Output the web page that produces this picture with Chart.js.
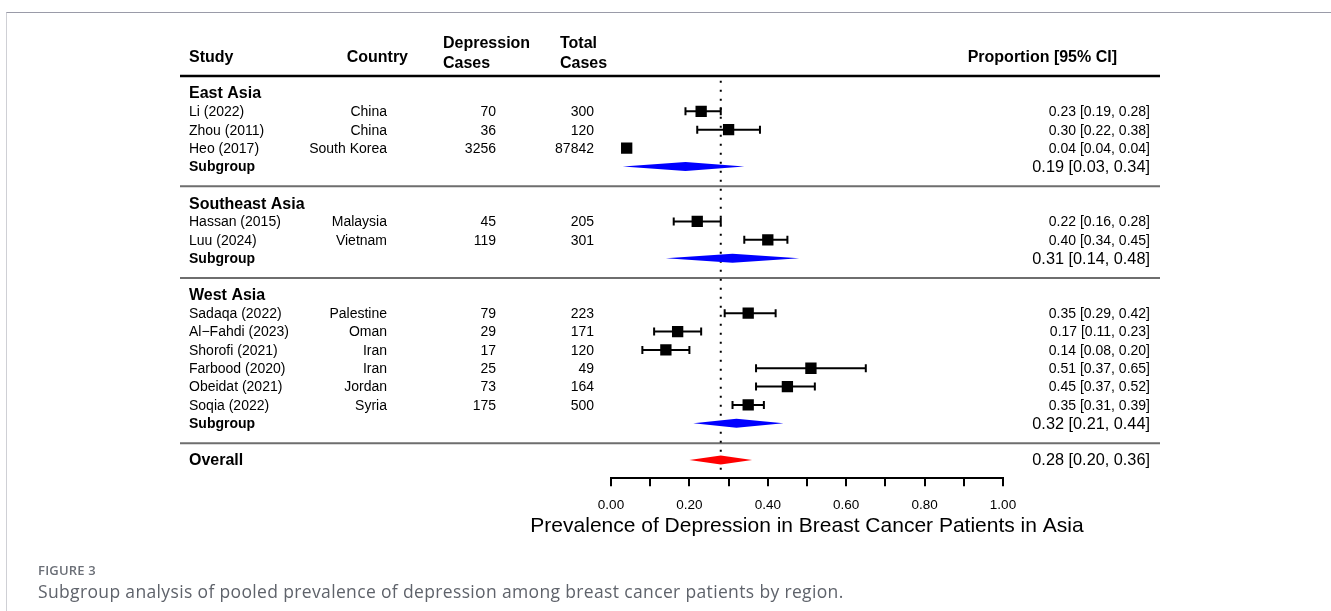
<!DOCTYPE html>
<html>
<head>
<meta charset="utf-8">
<title>Depression prevalence forest plot</title>
<script src="https://cdn.jsdelivr.net/npm/chart.js@4.4.1/dist/chart.umd.min.js"></script>
<style>
  html, body { margin: 0; padding: 0; background: #fff; }
  #wrap { position: relative; width: 1331px; height: 611px; overflow: hidden; }
  #frame { position: absolute; left: 6px; top: 12px; right: -2px; bottom: -2px;
           border-top: 1px solid #9a9ba8; border-left: 1px solid #cfd0d5; }
  #forest { position: absolute; left: 0; top: 0; }
  .figlabel { position: absolute; left: 38px; top: 561px; font: 600 13px "Open Sans", sans-serif;
              color: #6b6f77; letter-spacing: 0.2px; }
  .caption { position: absolute; left: 38px; top: 579px; font: 400 17.5px "Open Sans", sans-serif;
             color: #5f636b; white-space: nowrap; letter-spacing: 0.35px; }
</style>
</head>
<body>
<div id="wrap">
  <div id="frame"></div>
  <canvas id="forest" width="1331" height="611"></canvas>
  <div class="figlabel">FIGURE 3</div>
  <div class="caption">Subgroup analysis of pooled prevalence of depression among breast cancer patients by region.</div>
</div>
<script>
// ---- study data ----
const regions = ['East Asia', 'Southeast Asia', 'West Asia'];
const studies = ['Li (2022)', 'Zhou (2011)', 'Heo (2017)', 'Hassan (2015)', 'Luu (2024)',
                 'Sadaqa (2022)', 'Al\u2212Fahdi (2023)', 'Shorofi (2021)', 'Farbood (2020)',
                 'Obeidat (2021)', 'Soqia (2022)'];
const studyRegion = [0, 0, 0, 1, 1, 2, 2, 2, 2, 2, 2];
const countries = ['China', 'China', 'South Korea', 'Malaysia', 'Vietnam', 'Palestine', 'Oman',
                   'Iran', 'Iran', 'Jordan', 'Syria'];
const depressionCases = [70, 36, 3256, 45, 119, 79, 29, 17, 25, 73, 175];
const totalCases = [300, 120, 87842, 205, 301, 223, 171, 120, 49, 164, 500];
const estimates = [0.23, 0.30, 0.04, 0.22, 0.40, 0.35, 0.17, 0.14, 0.51, 0.45, 0.35];
const lowerCI   = [0.19, 0.22, 0.04, 0.16, 0.34, 0.29, 0.11, 0.08, 0.37, 0.37, 0.31];
const upperCI   = [0.28, 0.38, 0.04, 0.28, 0.45, 0.42, 0.23, 0.20, 0.65, 0.52, 0.39];

// pooled estimates per region and overall
const subgroupEst  = [0.19, 0.31, 0.32];
const subgroupLow  = [0.03, 0.14, 0.21];
const subgroupHigh = [0.34, 0.48, 0.44];
const overallEst  = 0.28;
const overallLow  = 0.20;
const overallHigh = 0.36;

// x axis
const xTickValues = [0, 0.1, 0.2, 0.3, 0.4, 0.5, 0.6, 0.7, 0.8, 0.9, 1.0];
const xTickLabels = ['0.00', '', '0.20', '', '0.40', '', '0.60', '', '0.80', '', '1.00'];
const axisTitle = 'Prevalence of Depression in Breast Cancer Patients in Asia';

// ---- row layout: heading, studies, subgroup, divider per region, then overall ----
const studyRow = [], headingRow = [], subgroupRow = [], dividerRow = [];
let r = 0;
regions.forEach((name, g) => {
  headingRow.push(r++);
  studyRegion.forEach((rg, i) => { if (rg === g) studyRow[i] = r++; });
  subgroupRow.push(r++);
  dividerRow.push(r++);
});
const overallRow = r;

const FONT = '"Liberation Sans", Arial, Helvetica, sans-serif';
const fmt = v => v.toFixed(2);
const ciText = (e, l, h) => `${fmt(e)} [${fmt(l)}, ${fmt(h)}]`;

const COL = {
  study: 189, countryRight: 387, casesRight: 496, totalRight: 594,
  casesHead: 443, totalHead: 560, countryHeadRight: 408,
  valueRight: 1150, valueHeadRight: 1117,
  ruleLeft: 180, ruleRight: 1160
};
const TEXT_DY = 1; // nudges glyphs onto the row centre

function text(ctx, s, x, y, align, font, color) {
  ctx.font = font;
  ctx.fillStyle = color || '#000';
  ctx.textAlign = align;
  ctx.textBaseline = 'middle';
  ctx.fillText(s, x, y + TEXT_DY);
}

const forestPlugin = {
  id: 'forestPlot',
  beforeDatasetsDraw(chart) {
    const ctx = chart.ctx;
    const xs = chart.scales.x, ys = chart.scales.y;
    const px = v => xs.getPixelForValue(v);
    const py = v => ys.getPixelForValue(v);
    ctx.save();

    // header rule
    ctx.strokeStyle = '#000';
    ctx.lineWidth = 2.5;
    ctx.beginPath();
    ctx.moveTo(COL.ruleLeft, py(-1) + 1.4);
    ctx.lineTo(COL.ruleRight, py(-1) + 1.4);
    ctx.stroke();

    // region dividers
    ctx.strokeStyle = '#6e6e6e';
    ctx.lineWidth = 2;
    dividerRow.forEach(dr => {
      const y = py(dr) + 1.5;
      ctx.beginPath();
      ctx.moveTo(COL.ruleLeft, y);
      ctx.lineTo(COL.ruleRight, y);
      ctx.stroke();
    });

    // dotted reference line at the overall estimate
    ctx.strokeStyle = '#000';
    ctx.lineWidth = 2;
    ctx.setLineDash([2, 7]);
    ctx.beginPath();
    ctx.moveTo(px(overallEst), py(-1) + 6);
    ctx.lineTo(px(overallEst), py(overallRow) + 10);
    ctx.stroke();
    ctx.setLineDash([]);

    // confidence intervals
    ctx.strokeStyle = '#000';
    ctx.lineWidth = 2;
    estimates.forEach((e, i) => {
      const y = py(studyRow[i]);
      const x0 = px(lowerCI[i]), x1 = px(upperCI[i]);
      ctx.beginPath();
      ctx.moveTo(x0, y); ctx.lineTo(x1, y);
      ctx.moveTo(x0, y - 4); ctx.lineTo(x0, y + 4);
      ctx.moveTo(x1, y - 4); ctx.lineTo(x1, y + 4);
      ctx.stroke();
    });

    // pooled diamonds
    const diamond = (e, l, h, row, color) => {
      const y = py(row);
      ctx.fillStyle = color;
      ctx.beginPath();
      ctx.moveTo(px(l), y);
      ctx.lineTo(px(e), y - 4.5);
      ctx.lineTo(px(h), y);
      ctx.lineTo(px(e), y + 4.5);
      ctx.closePath();
      ctx.fill();
    };
    subgroupEst.forEach((e, g) => diamond(e, subgroupLow[g], subgroupHigh[g], subgroupRow[g], '#0000ff'));
    diamond(overallEst, overallLow, overallHigh, overallRow, '#ff0000');
    ctx.restore();
  },
  afterDraw(chart) {
    const ctx = chart.ctx;
    const xs = chart.scales.x;
    const py = v => chart.scales.y.getPixelForValue(v);
    const bold16 = `bold 16px ${FONT}`;
    const bold14 = `bold 14px ${FONT}`;
    const reg14 = `14px ${FONT}`;
    const reg16 = `16.3px ${FONT}`;
    ctx.save();

    // axis title, centred under the x scale
    text(ctx, axisTitle, (xs.left + xs.right) / 2, chart.chartArea.bottom + 47, 'center', `21px ${FONT}`);

    // column headers
    text(ctx, 'Study', COL.study, py(-2), 'left', bold16);
    text(ctx, 'Country', COL.countryHeadRight, py(-2), 'right', bold16);
    text(ctx, 'Depression', COL.casesHead, py(-2.72), 'left', bold16);
    text(ctx, 'Cases', COL.casesHead, py(-1.65), 'left', bold16);
    text(ctx, 'Total', COL.totalHead, py(-2.72), 'left', bold16);
    text(ctx, 'Cases', COL.totalHead, py(-1.65), 'left', bold16);
    text(ctx, 'Proportion [95% CI]', COL.valueHeadRight, py(-2), 'right', bold16);

    // region headings and pooled rows
    regions.forEach((name, g) => {
      text(ctx, name, COL.study, py(headingRow[g]), 'left', bold16);
      text(ctx, 'Subgroup', COL.study, py(subgroupRow[g]), 'left', bold14);
      text(ctx, ciText(subgroupEst[g], subgroupLow[g], subgroupHigh[g]),
           COL.valueRight, py(subgroupRow[g]), 'right', reg16);
    });
    text(ctx, 'Overall', COL.study, py(overallRow), 'left', bold16);
    text(ctx, ciText(overallEst, overallLow, overallHigh), COL.valueRight, py(overallRow), 'right', reg16);

    // study rows
    studies.forEach((s, i) => {
      const y = py(studyRow[i]);
      text(ctx, s, COL.study, y, 'left', reg14);
      text(ctx, countries[i], COL.countryRight, y, 'right', reg14);
      text(ctx, String(depressionCases[i]), COL.casesRight, y, 'right', reg14);
      text(ctx, String(totalCases[i]), COL.totalRight, y, 'right', reg14);
      text(ctx, ciText(estimates[i], lowerCI[i], upperCI[i]), COL.valueRight, y, 'right', reg14);
    });
    ctx.restore();
  }
};

new Chart(document.getElementById('forest'), {
  type: 'scatter',
  data: {
    datasets: [{
      label: 'Study estimate',
      data: estimates.map((e, i) => ({ x: e, y: studyRow[i] })),
      pointStyle: 'rect',
      pointRadius: 8,
      pointHoverRadius: 8,
      backgroundColor: '#000',
      borderColor: '#000',
      borderWidth: 0
    }]
  },
  options: {
    responsive: false,
    animation: false,
    devicePixelRatio: 1,
    events: [],
    layout: { padding: { left: 611, right: 328, top: 19.6, bottom: 72.65 } },
    plugins: { legend: { display: false }, tooltip: { enabled: false } },
    scales: {
      x: {
        type: 'linear', min: 0, max: 1, position: 'bottom',
        afterBuildTicks: axis => { axis.ticks = xTickValues.map(v => ({ value: v })); },
        afterFit: axis => { axis.height = 60; },
        ticks: {
          autoSkip: false, maxRotation: 0, padding: 11, color: '#000',
          font: { family: FONT, size: 13.5 },
          callback: (v, idx) => xTickLabels[idx]
        },
        grid: { drawOnChartArea: false, drawTicks: true, tickLength: 8, color: '#000', lineWidth: 2 },
        border: { display: true, color: '#000', width: 2 },
        title: { display: false }
      },
      y: { type: 'linear', display: false, min: -4, max: 21, reverse: true }
    }
  },
  plugins: [forestPlugin]
});
</script>
</body>
</html>
